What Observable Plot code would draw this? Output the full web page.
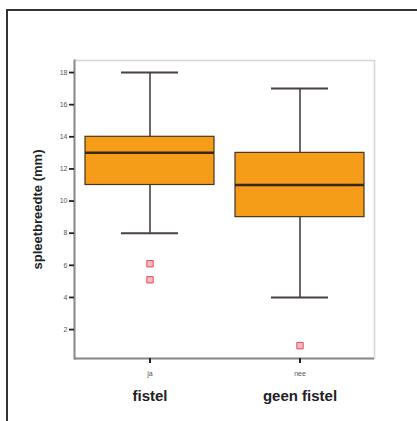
<!DOCTYPE html>
<html>
<head>
<meta charset="utf-8">
<script src="https://cdn.jsdelivr.net/npm/d3@7"></script>
<script src="https://cdn.jsdelivr.net/npm/@observablehq/plot@0.6"></script>
<style>
  html, body { margin: 0; padding: 0; background: #fff; }
  #wrap { position: relative; width: 417px; height: 421px; overflow: hidden; }
  #border { position: absolute; left: 6px; top: 9px; width: 430px; height: 430px;
            border-left: 2px solid #333; border-top: 2px solid #333; }
  #chart { position: absolute; left: 0; top: 0; }
  [aria-label="y-axis label"] text, [aria-label="y-axis label"] { font-weight: bold; font-size: 13px; fill: #222; }
</style>
</head>
<body>
<div id="wrap"><div id="border"></div><div id="chart"></div></div>
<script>
const groups = ["ja", "nee"];
const groupNames = ["fistel", "geen fistel"];
const q1 = [11, 9];
const median = [13, 11];
const q3 = [14, 13];
const whiskerLow = [8, 4];
const whiskerHigh = [18, 17];
const outlierGroup = ["ja", "ja", "nee"];
const outlierValue = [6.1, 5.1, 1.0];
const yTicks = [2, 4, 6, 8, 10, 12, 14, 16, 18];
const yDomain = [0.2, 18.75];

const boxes = groups.map((g, i) => ({g, name: groupNames[i], q1: q1[i], med: median[i], q3: q3[i], lo: whiskerLow[i], hi: whiskerHigh[i]}));
const outliers = outlierGroup.map((g, i) => ({g, v: outlierValue[i]}));

const plot = Plot.plot({
  width: 417,
  height: 421,
  marginLeft: 74,
  marginRight: 43,
  marginTop: 60,
  marginBottom: 63,
  style: {fontFamily: "Liberation Sans, Arial, sans-serif", background: "transparent", overflow: "visible"},
  x: {domain: groups, paddingInner: 0.14, paddingOuter: 0.07, axis: null},
  y: {domain: yDomain, axis: null},
  marks: [
    Plot.frame({stroke: "#d6d6d6", strokeWidth: 1.5}),
    Plot.ruleY([yDomain[0]], {stroke: "#8a8a8a", strokeWidth: 2}),
    Plot.frame({anchor: "left", stroke: "#8a8a8a", strokeWidth: 2}),
    Plot.axisY({ticks: yTicks, tickSize: 5, tickPadding: 2, fontSize: 7, color: "#555", stroke: "#222", strokeWidth: 1.8,
                label: "spleetbreedte (mm)", labelAnchor: "center", labelOffset: 42, labelArrow: "none"}),
    Plot.axisX({tickSize: 5, tickPadding: 8, fontSize: 7, color: "#555", stroke: "#222", strokeWidth: 2, label: null}),
    Plot.text(boxes, {x: "g", text: "name", frameAnchor: "bottom", dy: 42, fontSize: 15, fontWeight: "bold", fill: "#222"}),
    // whiskers
    Plot.ruleX(boxes, {x: "g", y1: "q3", y2: "hi", stroke: "#4a4040", strokeWidth: 1.6}),
    Plot.ruleX(boxes, {x: "g", y1: "lo", y2: "q1", stroke: "#4a4040", strokeWidth: 1.6}),
    Plot.tickY(boxes, {x: "g", y: "hi", insetLeft: 36, insetRight: 36, stroke: "#4a4040", strokeWidth: 2}),
    Plot.tickY(boxes, {x: "g", y: "lo", insetLeft: 36, insetRight: 36, stroke: "#4a4040", strokeWidth: 2}),
    // boxes
    Plot.barY(boxes, {x: "g", y1: "q1", y2: "q3", fill: "#f59c19", stroke: "#4a3520", strokeWidth: 1.2}),
    Plot.tickY(boxes, {x: "g", y: "med", stroke: "#3a2614", strokeWidth: 2.5}),
    // outliers
    Plot.dot(outliers, {x: "g", y: "v", symbol: "square", r: 3.6, fill: "#f4b8bd", stroke: "#e0505a", strokeWidth: 1})
  ]
});
document.getElementById("chart").appendChild(plot);
</script>
</body>
</html>
